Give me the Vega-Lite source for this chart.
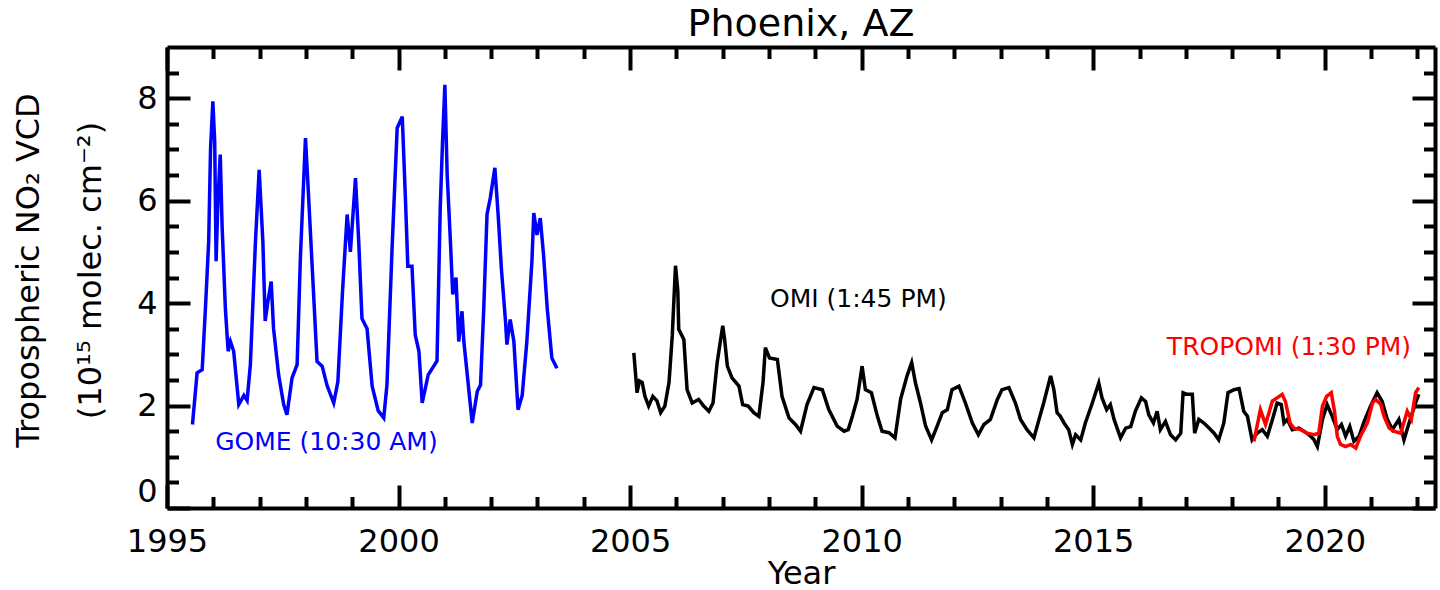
{
  "$schema": "https://vega.github.io/schema/vega-lite/v6.json",
  "width": 1268,
  "height": 461,
  "autosize": "none",
  "padding": {"left": 167, "top": 47, "right": 5, "bottom": 82},
  "background": "white",
  "config": {"view": {"stroke": null}, "font": "DejaVu Sans"},
  "title": {"text": "Phoenix, AZ", "fontSize": 38, "font": "DejaVu Sans", "fontWeight": "normal", "color": "black", "anchor": "middle", "offset": 1},
  "datasets": {
    "series": [
      {"sat":"GOME","year":1995.55,"no2":1.63},{"sat":"GOME","year":1995.65,"no2":2.64},{"sat":"GOME","year":1995.76,"no2":2.70},{"sat":"GOME","year":1995.83,"no2":3.90},{"sat":"GOME","year":1995.90,"no2":5.20},{"sat":"GOME","year":1995.94,"no2":7.00},{"sat":"GOME","year":1995.99,"no2":7.94},{"sat":"GOME","year":1996.03,"no2":7.16},{"sat":"GOME","year":1996.06,"no2":4.82},{"sat":"GOME","year":1996.10,"no2":6.00},{"sat":"GOME","year":1996.15,"no2":6.90},{"sat":"GOME","year":1996.19,"no2":5.50},{"sat":"GOME","year":1996.26,"no2":3.90},{"sat":"GOME","year":1996.32,"no2":3.06},{"sat":"GOME","year":1996.37,"no2":3.25},{"sat":"GOME","year":1996.44,"no2":3.06},{"sat":"GOME","year":1996.55,"no2":2.02},{"sat":"GOME","year":1996.66,"no2":2.20},{"sat":"GOME","year":1996.73,"no2":2.10},{"sat":"GOME","year":1996.80,"no2":2.80},{"sat":"GOME","year":1996.91,"no2":5.20},{"sat":"GOME","year":1996.99,"no2":6.60},{"sat":"GOME","year":1997.07,"no2":5.20},{"sat":"GOME","year":1997.12,"no2":3.65},{"sat":"GOME","year":1997.18,"no2":4.04},{"sat":"GOME","year":1997.25,"no2":4.42},{"sat":"GOME","year":1997.30,"no2":3.51},{"sat":"GOME","year":1997.41,"no2":2.60},{"sat":"GOME","year":1997.52,"no2":2.02},{"sat":"GOME","year":1997.59,"no2":1.82},{"sat":"GOME","year":1997.70,"no2":2.54},{"sat":"GOME","year":1997.81,"no2":2.80},{"sat":"GOME","year":1997.88,"no2":4.88},{"sat":"GOME","year":1997.99,"no2":7.22},{"sat":"GOME","year":1998.04,"no2":6.38},{"sat":"GOME","year":1998.13,"no2":4.80},{"sat":"GOME","year":1998.24,"no2":2.86},{"sat":"GOME","year":1998.35,"no2":2.77},{"sat":"GOME","year":1998.46,"no2":2.38},{"sat":"GOME","year":1998.60,"no2":2.05},{"sat":"GOME","year":1998.69,"no2":2.47},{"sat":"GOME","year":1998.79,"no2":4.23},{"sat":"GOME","year":1998.89,"no2":5.73},{"sat":"GOME","year":1998.96,"no2":5.00},{"sat":"GOME","year":1999.07,"no2":6.44},{"sat":"GOME","year":1999.14,"no2":5.20},{"sat":"GOME","year":1999.21,"no2":3.70},{"sat":"GOME","year":1999.32,"no2":3.50},{"sat":"GOME","year":1999.43,"no2":2.38},{"sat":"GOME","year":1999.56,"no2":1.90},{"sat":"GOME","year":1999.68,"no2":1.76},{"sat":"GOME","year":1999.75,"no2":2.41},{"sat":"GOME","year":1999.86,"no2":5.07},{"sat":"GOME","year":1999.97,"no2":7.42},{"sat":"GOME","year":2000.08,"no2":7.64},{"sat":"GOME","year":2000.15,"no2":6.00},{"sat":"GOME","year":2000.20,"no2":4.72},{"sat":"GOME","year":2000.29,"no2":4.72},{"sat":"GOME","year":2000.36,"no2":3.38},{"sat":"GOME","year":2000.44,"no2":3.06},{"sat":"GOME","year":2000.51,"no2":2.05},{"sat":"GOME","year":2000.64,"no2":2.60},{"sat":"GOME","year":2000.76,"no2":2.77},{"sat":"GOME","year":2000.83,"no2":2.87},{"sat":"GOME","year":2000.90,"no2":5.86},{"sat":"GOME","year":2000.95,"no2":7.16},{"sat":"GOME","year":2001.00,"no2":8.26},{"sat":"GOME","year":2001.05,"no2":6.50},{"sat":"GOME","year":2001.12,"no2":5.20},{"sat":"GOME","year":2001.17,"no2":4.17},{"sat":"GOME","year":2001.24,"no2":4.50},{"sat":"GOME","year":2001.30,"no2":3.25},{"sat":"GOME","year":2001.37,"no2":3.84},{"sat":"GOME","year":2001.41,"no2":3.25},{"sat":"GOME","year":2001.52,"no2":2.28},{"sat":"GOME","year":2001.59,"no2":1.66},{"sat":"GOME","year":2001.70,"no2":2.28},{"sat":"GOME","year":2001.77,"no2":2.40},{"sat":"GOME","year":2001.84,"no2":3.90},{"sat":"GOME","year":2001.91,"no2":5.73},{"sat":"GOME","year":2001.98,"no2":6.05},{"sat":"GOME","year":2002.08,"no2":6.64},{"sat":"GOME","year":2002.15,"no2":5.73},{"sat":"GOME","year":2002.22,"no2":4.68},{"sat":"GOME","year":2002.31,"no2":3.64},{"sat":"GOME","year":2002.34,"no2":3.19},{"sat":"GOME","year":2002.41,"no2":3.68},{"sat":"GOME","year":2002.49,"no2":3.25},{"sat":"GOME","year":2002.58,"no2":1.92},{"sat":"GOME","year":2002.67,"no2":2.20},{"sat":"GOME","year":2002.77,"no2":3.25},{"sat":"GOME","year":2002.88,"no2":4.82},{"sat":"GOME","year":2002.92,"no2":5.76},{"sat":"GOME","year":2002.99,"no2":5.33},{"sat":"GOME","year":2003.06,"no2":5.66},{"sat":"GOME","year":2003.13,"no2":4.95},{"sat":"GOME","year":2003.21,"no2":3.90},{"sat":"GOME","year":2003.31,"no2":2.93},{"sat":"GOME","year":2003.42,"no2":2.73},
      {"sat":"OMI","year":2005.08,"no2":3.03},{"sat":"OMI","year":2005.15,"no2":2.25},{"sat":"OMI","year":2005.20,"no2":2.48},{"sat":"OMI","year":2005.26,"no2":2.45},{"sat":"OMI","year":2005.32,"no2":2.18},{"sat":"OMI","year":2005.40,"no2":1.99},{"sat":"OMI","year":2005.49,"no2":2.18},{"sat":"OMI","year":2005.58,"no2":2.09},{"sat":"OMI","year":2005.66,"no2":1.86},{"sat":"OMI","year":2005.75,"no2":1.99},{"sat":"OMI","year":2005.84,"no2":2.45},{"sat":"OMI","year":2005.91,"no2":3.36},{"sat":"OMI","year":2005.98,"no2":4.73},{"sat":"OMI","year":2006.03,"no2":4.24},{"sat":"OMI","year":2006.05,"no2":3.49},{"sat":"OMI","year":2006.16,"no2":3.29},{"sat":"OMI","year":2006.23,"no2":2.31},{"sat":"OMI","year":2006.34,"no2":2.05},{"sat":"OMI","year":2006.48,"no2":2.12},{"sat":"OMI","year":2006.59,"no2":1.99},{"sat":"OMI","year":2006.70,"no2":1.89},{"sat":"OMI","year":2006.79,"no2":2.05},{"sat":"OMI","year":2006.88,"no2":2.84},{"sat":"OMI","year":2007.00,"no2":3.56},{"sat":"OMI","year":2007.04,"no2":3.30},{"sat":"OMI","year":2007.10,"no2":2.77},{"sat":"OMI","year":2007.20,"no2":2.54},{"sat":"OMI","year":2007.35,"no2":2.38},{"sat":"OMI","year":2007.43,"no2":2.02},{"sat":"OMI","year":2007.55,"no2":1.99},{"sat":"OMI","year":2007.67,"no2":1.86},{"sat":"OMI","year":2007.78,"no2":1.79},{"sat":"OMI","year":2007.87,"no2":2.45},{"sat":"OMI","year":2007.92,"no2":3.13},{"sat":"OMI","year":2008.01,"no2":2.93},{"sat":"OMI","year":2008.18,"no2":2.90},{"sat":"OMI","year":2008.28,"no2":2.18},{"sat":"OMI","year":2008.43,"no2":1.76},{"sat":"OMI","year":2008.57,"no2":1.63},{"sat":"OMI","year":2008.68,"no2":1.50},{"sat":"OMI","year":2008.82,"no2":2.02},{"sat":"OMI","year":2008.97,"no2":2.35},{"sat":"OMI","year":2009.15,"no2":2.31},{"sat":"OMI","year":2009.29,"no2":1.92},{"sat":"OMI","year":2009.47,"no2":1.60},{"sat":"OMI","year":2009.62,"no2":1.50},{"sat":"OMI","year":2009.71,"no2":1.53},{"sat":"OMI","year":2009.80,"no2":1.79},{"sat":"OMI","year":2009.90,"no2":2.12},{"sat":"OMI","year":2010.01,"no2":2.77},{"sat":"OMI","year":2010.08,"no2":2.31},{"sat":"OMI","year":2010.21,"no2":2.25},{"sat":"OMI","year":2010.34,"no2":1.79},{"sat":"OMI","year":2010.44,"no2":1.50},{"sat":"OMI","year":2010.59,"no2":1.47},{"sat":"OMI","year":2010.72,"no2":1.37},{"sat":"OMI","year":2010.84,"no2":2.12},{"sat":"OMI","year":2010.98,"no2":2.58},{"sat":"OMI","year":2011.08,"no2":2.84},{"sat":"OMI","year":2011.16,"no2":2.45},{"sat":"OMI","year":2011.27,"no2":2.05},{"sat":"OMI","year":2011.38,"no2":1.60},{"sat":"OMI","year":2011.51,"no2":1.33},{"sat":"OMI","year":2011.63,"no2":1.60},{"sat":"OMI","year":2011.74,"no2":1.86},{"sat":"OMI","year":2011.85,"no2":1.92},{"sat":"OMI","year":2011.95,"no2":2.31},{"sat":"OMI","year":2012.10,"no2":2.38},{"sat":"OMI","year":2012.24,"no2":2.05},{"sat":"OMI","year":2012.39,"no2":1.66},{"sat":"OMI","year":2012.52,"no2":1.43},{"sat":"OMI","year":2012.64,"no2":1.63},{"sat":"OMI","year":2012.78,"no2":1.73},{"sat":"OMI","year":2012.93,"no2":2.12},{"sat":"OMI","year":2013.03,"no2":2.31},{"sat":"OMI","year":2013.18,"no2":2.35},{"sat":"OMI","year":2013.32,"no2":2.05},{"sat":"OMI","year":2013.43,"no2":1.73},{"sat":"OMI","year":2013.57,"no2":1.53},{"sat":"OMI","year":2013.72,"no2":1.37},{"sat":"OMI","year":2013.83,"no2":1.73},{"sat":"OMI","year":2013.93,"no2":2.05},{"sat":"OMI","year":2014.08,"no2":2.58},{"sat":"OMI","year":2014.15,"no2":2.31},{"sat":"OMI","year":2014.22,"no2":1.86},{"sat":"OMI","year":2014.29,"no2":1.79},{"sat":"OMI","year":2014.37,"no2":1.66},{"sat":"OMI","year":2014.47,"no2":1.53},{"sat":"OMI","year":2014.55,"no2":1.24},{"sat":"OMI","year":2014.62,"no2":1.43},{"sat":"OMI","year":2014.73,"no2":1.33},{"sat":"OMI","year":2014.83,"no2":1.66},{"sat":"OMI","year":2014.98,"no2":2.05},{"sat":"OMI","year":2015.12,"no2":2.44},{"sat":"OMI","year":2015.19,"no2":2.15},{"sat":"OMI","year":2015.29,"no2":1.92},{"sat":"OMI","year":2015.37,"no2":2.02},{"sat":"OMI","year":2015.45,"no2":1.73},{"sat":"OMI","year":2015.59,"no2":1.37},{"sat":"OMI","year":2015.70,"no2":1.56},{"sat":"OMI","year":2015.81,"no2":1.59},{"sat":"OMI","year":2015.91,"no2":1.89},{"sat":"OMI","year":2016.04,"no2":2.15},{"sat":"OMI","year":2016.13,"no2":2.08},{"sat":"OMI","year":2016.20,"no2":1.82},{"sat":"OMI","year":2016.30,"no2":1.66},{"sat":"OMI","year":2016.38,"no2":1.89},{"sat":"OMI","year":2016.45,"no2":1.53},{"sat":"OMI","year":2016.56,"no2":1.69},{"sat":"OMI","year":2016.67,"no2":1.43},{"sat":"OMI","year":2016.78,"no2":1.33},{"sat":"OMI","year":2016.89,"no2":1.46},{"sat":"OMI","year":2016.94,"no2":2.25},{"sat":"OMI","year":2017.03,"no2":2.22},{"sat":"OMI","year":2017.14,"no2":2.22},{"sat":"OMI","year":2017.19,"no2":1.46},{"sat":"OMI","year":2017.28,"no2":1.73},{"sat":"OMI","year":2017.39,"no2":1.66},{"sat":"OMI","year":2017.50,"no2":1.56},{"sat":"OMI","year":2017.61,"no2":1.46},{"sat":"OMI","year":2017.71,"no2":1.33},{"sat":"OMI","year":2017.82,"no2":1.66},{"sat":"OMI","year":2017.91,"no2":2.25},{"sat":"OMI","year":2018.04,"no2":2.31},{"sat":"OMI","year":2018.15,"no2":2.33},{"sat":"OMI","year":2018.25,"no2":1.89},{"sat":"OMI","year":2018.33,"no2":1.79},{"sat":"OMI","year":2018.43,"no2":1.33},{"sat":"OMI","year":2018.54,"no2":1.46},{"sat":"OMI","year":2018.65,"no2":1.53},{"sat":"OMI","year":2018.76,"no2":1.40},{"sat":"OMI","year":2018.87,"no2":1.73},{"sat":"OMI","year":2018.97,"no2":2.05},{"sat":"OMI","year":2019.06,"no2":2.02},{"sat":"OMI","year":2019.12,"no2":1.66},{"sat":"OMI","year":2019.19,"no2":1.73},{"sat":"OMI","year":2019.30,"no2":1.53},{"sat":"OMI","year":2019.44,"no2":1.56},{"sat":"OMI","year":2019.55,"no2":1.50},{"sat":"OMI","year":2019.66,"no2":1.43},{"sat":"OMI","year":2019.77,"no2":1.33},{"sat":"OMI","year":2019.84,"no2":1.20},{"sat":"OMI","year":2019.95,"no2":1.73},{"sat":"OMI","year":2020.05,"no2":2.02},{"sat":"OMI","year":2020.16,"no2":1.79},{"sat":"OMI","year":2020.27,"no2":1.53},{"sat":"OMI","year":2020.36,"no2":1.63},{"sat":"OMI","year":2020.45,"no2":1.40},{"sat":"OMI","year":2020.54,"no2":1.59},{"sat":"OMI","year":2020.63,"no2":1.30},{"sat":"OMI","year":2020.74,"no2":1.40},{"sat":"OMI","year":2020.85,"no2":1.69},{"sat":"OMI","year":2020.99,"no2":1.99},{"sat":"OMI","year":2021.13,"no2":2.25},{"sat":"OMI","year":2021.24,"no2":2.08},{"sat":"OMI","year":2021.35,"no2":1.73},{"sat":"OMI","year":2021.46,"no2":1.53},{"sat":"OMI","year":2021.60,"no2":1.73},{"sat":"OMI","year":2021.71,"no2":1.33},{"sat":"OMI","year":2021.82,"no2":1.66},{"sat":"OMI","year":2021.96,"no2":2.05},{"sat":"OMI","year":2022.03,"no2":2.22},
      {"sat":"TROPOMI","year":2018.47,"no2":1.30},{"sat":"TROPOMI","year":2018.61,"no2":1.92},{"sat":"TROPOMI","year":2018.72,"no2":1.63},{"sat":"TROPOMI","year":2018.87,"no2":2.09},{"sat":"TROPOMI","year":2018.97,"no2":2.15},{"sat":"TROPOMI","year":2019.08,"no2":2.22},{"sat":"TROPOMI","year":2019.15,"no2":2.08},{"sat":"TROPOMI","year":2019.25,"no2":1.66},{"sat":"TROPOMI","year":2019.33,"no2":1.56},{"sat":"TROPOMI","year":2019.48,"no2":1.53},{"sat":"TROPOMI","year":2019.62,"no2":1.46},{"sat":"TROPOMI","year":2019.77,"no2":1.43},{"sat":"TROPOMI","year":2019.87,"no2":1.46},{"sat":"TROPOMI","year":2019.95,"no2":1.99},{"sat":"TROPOMI","year":2020.04,"no2":2.18},{"sat":"TROPOMI","year":2020.14,"no2":2.25},{"sat":"TROPOMI","year":2020.21,"no2":1.89},{"sat":"TROPOMI","year":2020.27,"no2":1.40},{"sat":"TROPOMI","year":2020.34,"no2":1.24},{"sat":"TROPOMI","year":2020.45,"no2":1.20},{"sat":"TROPOMI","year":2020.56,"no2":1.24},{"sat":"TROPOMI","year":2020.67,"no2":1.17},{"sat":"TROPOMI","year":2020.77,"no2":1.40},{"sat":"TROPOMI","year":2020.92,"no2":1.66},{"sat":"TROPOMI","year":2021.03,"no2":2.05},{"sat":"TROPOMI","year":2021.10,"no2":2.12},{"sat":"TROPOMI","year":2021.21,"no2":2.02},{"sat":"TROPOMI","year":2021.28,"no2":1.79},{"sat":"TROPOMI","year":2021.39,"no2":1.56},{"sat":"TROPOMI","year":2021.49,"no2":1.50},{"sat":"TROPOMI","year":2021.64,"no2":1.46},{"sat":"TROPOMI","year":2021.78,"no2":1.89},{"sat":"TROPOMI","year":2021.87,"no2":1.73},{"sat":"TROPOMI","year":2021.96,"no2":2.25},{"sat":"TROPOMI","year":2022.03,"no2":2.35}
    ],
    "labels": [
      {"sat":"GOME","year":1996.04,"no2":1.13,"label":"GOME (10:30 AM)"},
      {"sat":"OMI","year":2008.02,"no2":3.93,"label":"OMI (1:45 PM)"},
      {"sat":"TROPOMI","year":2016.59,"no2":2.98,"label":"TROPOMI (1:30 PM)"}
    ]
  },
  "layer": [
    {
      "data": {"name": "series"},
      "mark": {"type": "line", "strokeWidth": 3.5, "strokeJoin": "miter"},
      "encoding": {
        "x": {"field": "year", "type": "quantitative",
          "scale": {"domain": [1995, 2022.38], "nice": false, "zero": false},
          "axis": {"orient": "bottom", "grid": false,
            "values": [1995,2000,2005,2010,2015,2020],
            "tickSize": -23, "tickWidth": 4, "tickColor": "black", "domainColor": "black", "domainWidth": 4,
            "format": "d",
            "labelFont": "DejaVu Sans", "labelFontSize": 32, "labelColor": "black", "labelBaseline": "alphabetic",
            "labelPadding": 66, "labelOverlap": false, "labelFlush": false,
            "title": "Year", "titleFont": "DejaVu Sans", "titleFontSize": 32, "titleFontWeight": "normal", "titleColor": "black",
            "titleBaseline": "alphabetic", "titleX": 634, "titleY": 75, "titleAlign": "center"}},
        "y": {"field": "no2", "type": "quantitative",
          "scale": {"domain": [0, 9], "nice": false, "zero": true},
          "axis": {"orient": "left", "grid": false,
            "values": [0,2,4,6,8],
            "tickSize": -23, "tickWidth": 4, "tickColor": "black", "domainColor": "black", "domainWidth": 4,
            "format": "d",
            "labelFont": "DejaVu Sans", "labelFontSize": 32, "labelColor": "black",
            "labelPadding": 33, "labelOverlap": false, "labelFlush": true, "labelFlushOffset": 0,
            "title": ["Tropospheric NO₂ VCD", "(10¹⁵ molec. cm⁻²)"],
            "titleFont": "DejaVu Sans", "titleFontSize": 32, "titleFontWeight": "normal", "titleColor": "black",
            "titleAngle": -90, "titleBaseline": "alphabetic", "titleAlign": "center", "titleLineHeight": 62,
            "titleX": -129, "titleY": 223}},
        "color": {"field": "sat", "type": "nominal",
          "scale": {"domain": ["GOME", "OMI", "TROPOMI"], "range": ["#0000ff", "#000000", "#ff0000"]}, "legend": null}
      }
    },
    {
      "data": {"name": "labels"},
      "mark": {"type": "text", "align": "left", "baseline": "alphabetic", "fontSize": 25, "font": "DejaVu Sans"},
      "encoding": {
        "x": {"field": "year", "type": "quantitative", "axis": null},
        "y": {"field": "no2", "type": "quantitative", "axis": null},
        "text": {"field": "label"},
        "color": {"field": "sat", "type": "nominal", "legend": null}
      }
    },
    {
      "data": {"name": "series"},
      "mark": {"type": "line", "strokeOpacity": 0},
      "encoding": {
        "x": {"field": "year", "type": "quantitative",
          "axis": {"orient": "bottom", "grid": false, "labels": false, "title": null, "domain": false,
            "values": [1996,1997,1998,1999,2001,2002,2003,2004,2006,2007,2008,2009,2011,2012,2013,2014,2016,2017,2018,2019,2021,2022],
            "tickSize": -11.5, "tickWidth": 4, "tickColor": "black"}},
        "y": {"field": "no2", "type": "quantitative",
          "axis": {"orient": "left", "grid": false, "labels": false, "title": null, "domain": false,
            "values": [0.5,1,1.5,2.5,3,3.5,4.5,5,5.5,6.5,7,7.5,8.5],
            "tickSize": -11.5, "tickWidth": 4, "tickColor": "black"}}
      }
    },
    {
      "data": {"name": "series"},
      "mark": {"type": "line", "strokeOpacity": 0},
      "encoding": {
        "x": {"field": "year", "type": "quantitative",
          "axis": {"orient": "top", "grid": false, "labels": false, "title": null,
            "values": [1995,2000,2005,2010,2015,2020],
            "tickSize": -23, "tickWidth": 4, "tickColor": "black", "domainColor": "black", "domainWidth": 4}},
        "y": {"field": "no2", "type": "quantitative",
          "axis": {"orient": "right", "grid": false, "labels": false, "title": null,
            "values": [0,2,4,6,8],
            "tickSize": -23, "tickWidth": 4, "tickColor": "black", "domainColor": "black", "domainWidth": 4}}
      }
    },
    {
      "data": {"name": "series"},
      "mark": {"type": "line", "strokeOpacity": 0},
      "encoding": {
        "x": {"field": "year", "type": "quantitative",
          "axis": {"orient": "top", "grid": false, "labels": false, "title": null, "domain": false,
            "values": [1996,1997,1998,1999,2001,2002,2003,2004,2006,2007,2008,2009,2011,2012,2013,2014,2016,2017,2018,2019,2021,2022],
            "tickSize": -11.5, "tickWidth": 4, "tickColor": "black"}},
        "y": {"field": "no2", "type": "quantitative",
          "axis": {"orient": "right", "grid": false, "labels": false, "title": null, "domain": false,
            "values": [0.5,1,1.5,2.5,3,3.5,4.5,5,5.5,6.5,7,7.5,8.5],
            "tickSize": -11.5, "tickWidth": 4, "tickColor": "black"}}
      }
    }
  ],
  "resolve": {"axis": {"x": "independent", "y": "independent"}}
}
